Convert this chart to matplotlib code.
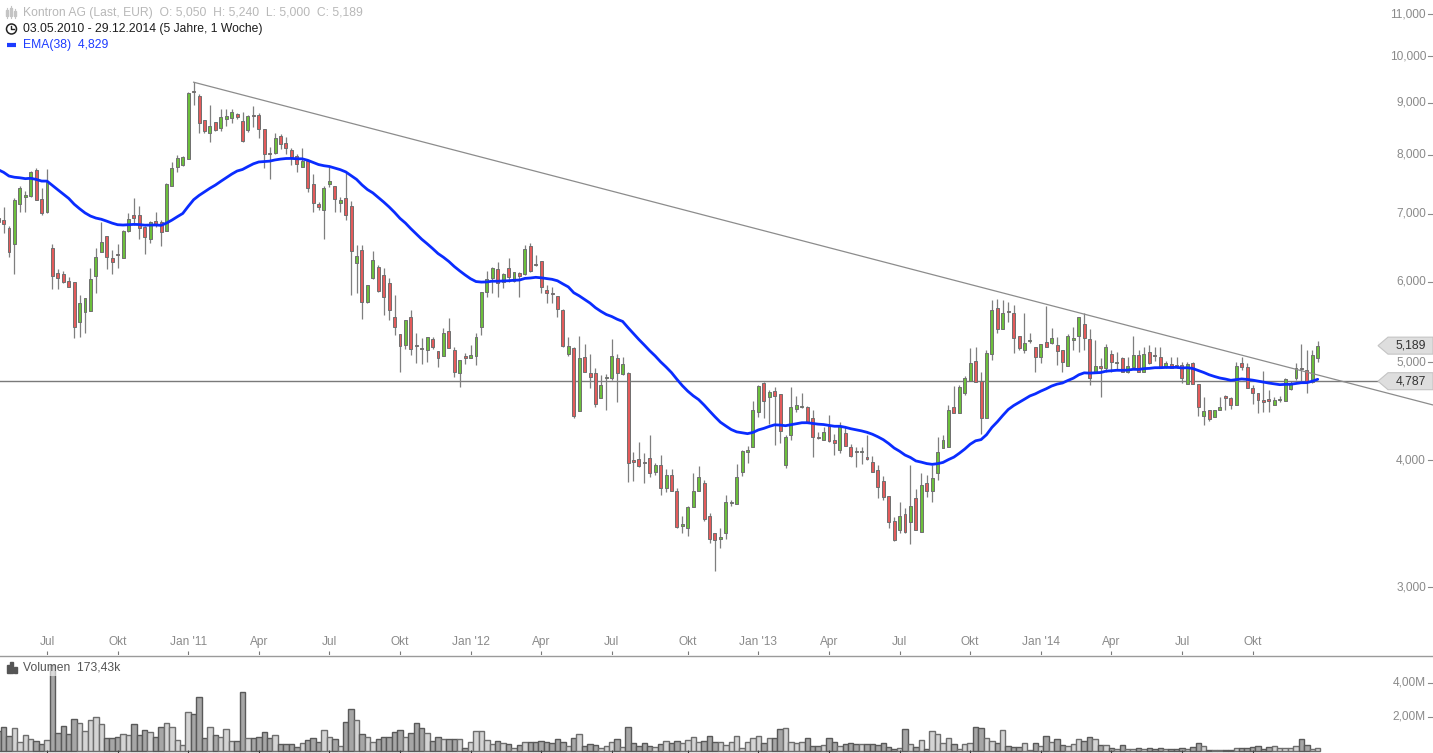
import numpy as np
import pandas as pd
import matplotlib
matplotlib.use("Agg")
import matplotlib.pyplot as plt
import matplotlib.dates as mdates
from matplotlib.patches import Polygon, Circle, Rectangle
from matplotlib.transforms import offset_copy

plt.rcParams['font.family'] = ['Liberation Sans', 'DejaVu Sans']

# weekly candles, Kontron AG (EUR), first week 03.05.2010
start = '2010-05-03'

opens = [
    6.93, 6.90, 6.78, 6.53, 7.15, 7.27, 7.29, 7.73, 7.24, 7.03,
    6.48, 6.12, 6.10, 6.01, 5.99, 5.48, 5.60, 5.61, 6.08, 6.42,
    6.65, 6.33, 6.39, 6.33, 6.73, 6.98, 6.98, 6.79, 6.61, 6.88,
    6.87, 6.73, 7.45, 7.78, 7.82, 7.92, 9.24, 9.14, 8.66, 8.40,
    8.62, 8.50, 8.68, 8.70, 8.77, 8.64, 8.46, 8.75, 8.75, 8.48,
    8.03, 8.03, 8.35, 8.22, 8.09, 7.98, 7.78, 7.89, 7.49, 7.15,
    7.06, 7.49, 7.45, 7.17, 7.25, 7.12, 6.26, 6.45, 5.73, 6.05,
    6.20, 6.09, 5.98, 5.54, 5.33, 5.20, 5.54, 5.20, 5.16, 5.14,
    5.27, 5.13, 5.07, 5.36, 5.14, 4.88, 5.07, 5.04, 5.07, 5.41,
    5.86, 6.05, 6.17, 5.99, 6.19, 6.01, 6.12, 6.10, 6.50, 6.24,
    6.29, 5.89, 5.85, 5.81, 5.63, 5.09, 5.16, 4.47, 5.06, 4.88,
    4.88, 4.61, 4.82, 4.82, 5.04, 4.87, 4.88, 4.00, 4.01, 3.99,
    4.02, 3.90, 3.96, 3.76, 3.87, 3.73, 3.45, 3.43, 3.60, 3.73,
    3.80, 3.53, 3.39, 3.35, 3.39, 3.63, 3.62, 3.90, 4.08, 4.12,
    4.46, 4.77, 4.62, 4.68, 4.65, 3.96, 4.24, 4.49, 4.52, 4.52,
    4.40, 4.22, 4.19, 4.32, 4.19, 4.10, 4.26, 4.12, 4.09, 4.08,
    4.03, 3.99, 3.91, 3.82, 3.69, 3.49, 3.42, 3.54, 3.48, 3.67,
    3.40, 3.80, 3.73, 3.89, 4.11, 4.12, 4.52, 4.45, 4.66, 4.79,
    5.01, 4.79, 4.40, 5.09, 5.65, 5.39, 5.61, 5.59, 5.30, 5.14,
    5.24, 5.17, 5.06, 5.23, 5.22, 5.20, 5.14, 4.96, 5.26, 5.30,
    5.45, 5.27, 4.89, 4.95, 4.93, 5.09, 4.99, 5.05, 4.89, 4.94,
    5.08, 4.89, 5.12, 5.08, 5.06, 4.94, 4.98, 4.97, 4.97, 4.76,
    4.99, 4.76, 4.42, 4.48, 4.41, 4.48, 4.63, 4.61, 4.54, 4.99,
    4.94, 4.71, 4.66, 4.59, 4.60, 4.54, 4.59, 4.58, 4.70, 4.82,
    4.93, 4.91, 4.78, 5.05]

highs = [
    7.17, 7.11, 6.81, 7.25, 7.45, 7.37, 7.71, 7.76, 7.42, 7.75,
    6.53, 6.17, 6.15, 6.06, 5.99, 5.82, 5.78, 6.19, 6.48, 6.87,
    6.65, 6.45, 6.53, 6.75, 7.01, 7.25, 7.12, 6.81, 6.88, 7.03,
    6.90, 7.50, 7.87, 7.99, 7.97, 9.22, 9.43, 9.18, 8.66, 8.96,
    8.62, 8.87, 8.87, 8.87, 8.79, 8.81, 8.75, 8.94, 8.79, 8.48,
    8.14, 8.40, 8.38, 8.33, 8.12, 8.01, 8.12, 7.89, 7.66, 7.19,
    7.45, 7.78, 7.45, 7.27, 7.68, 7.20, 6.52, 6.52, 5.95, 6.43,
    6.23, 6.19, 6.05, 5.82, 5.33, 5.50, 5.63, 5.34, 5.28, 5.29,
    5.29, 5.13, 5.40, 5.52, 5.17, 5.02, 5.10, 5.20, 5.34, 5.86,
    6.15, 6.20, 6.27, 6.12, 6.33, 6.13, 6.13, 6.52, 6.55, 6.37,
    6.29, 5.95, 5.93, 5.81, 5.64, 5.29, 5.17, 5.30, 5.21, 5.09,
    4.93, 4.85, 4.87, 5.27, 5.09, 5.06, 4.89, 4.08, 4.17, 4.07,
    4.24, 3.98, 4.05, 3.92, 3.92, 3.76, 3.53, 3.61, 3.89, 3.95,
    3.83, 3.55, 3.39, 3.43, 3.70, 3.66, 3.97, 4.10, 4.13, 4.58,
    4.75, 4.78, 4.69, 4.72, 4.65, 4.24, 4.72, 4.63, 4.66, 4.53,
    4.48, 4.27, 4.31, 4.43, 4.25, 4.36, 4.31, 4.15, 4.12, 4.12,
    4.24, 4.04, 3.96, 3.86, 3.69, 3.52, 3.64, 3.59, 3.96, 3.75,
    3.89, 3.87, 3.96, 4.22, 4.24, 4.54, 4.73, 4.75, 4.84, 5.16,
    5.17, 4.89, 5.14, 5.76, 5.77, 5.76, 5.73, 5.69, 5.30, 5.59,
    5.34, 5.17, 5.21, 5.68, 5.40, 5.29, 5.14, 5.33, 5.41, 5.54,
    5.59, 5.39, 5.26, 5.05, 5.21, 5.14, 5.11, 5.06, 5.06, 5.30,
    5.14, 5.17, 5.20, 5.17, 5.17, 5.01, 5.06, 5.06, 5.00, 5.00,
    5.00, 4.76, 4.62, 4.48, 4.48, 4.62, 4.64, 4.62, 5.00, 5.06,
    4.99, 4.75, 4.66, 4.90, 4.69, 4.62, 4.63, 4.82, 4.79, 4.99,
    5.21, 5.14, 5.14, 5.24]

lows = [
    6.78, 6.70, 6.34, 6.10, 7.03, 7.03, 7.27, 7.22, 6.98, 7.01,
    5.90, 5.90, 5.98, 5.93, 5.28, 5.29, 5.34, 5.61, 5.85, 6.42,
    6.17, 6.10, 6.19, 6.33, 6.71, 6.82, 6.61, 6.39, 6.55, 6.79,
    6.50, 6.73, 7.45, 7.69, 7.80, 7.92, 8.96, 8.40, 8.40, 8.23,
    8.44, 8.44, 8.54, 8.60, 8.68, 8.23, 8.42, 8.52, 8.31, 7.76,
    7.57, 8.01, 8.10, 8.01, 7.82, 7.69, 7.78, 7.35, 7.03, 7.06,
    6.61, 7.44, 7.03, 7.03, 6.90, 5.82, 5.85, 5.51, 5.72, 6.04,
    5.86, 5.56, 5.50, 5.32, 4.89, 5.15, 5.08, 4.99, 4.98, 5.00,
    5.15, 4.94, 5.07, 5.16, 4.83, 4.72, 4.98, 5.04, 4.97, 5.32,
    5.79, 5.85, 5.79, 5.91, 5.99, 5.99, 5.79, 6.09, 6.13, 6.22,
    5.85, 5.72, 5.72, 5.54, 5.17, 5.07, 4.40, 4.47, 4.89, 4.71,
    4.52, 4.61, 4.48, 4.80, 4.57, 4.86, 3.81, 3.82, 3.94, 3.80,
    3.85, 3.87, 3.70, 3.72, 3.73, 3.43, 3.39, 3.37, 3.60, 3.73,
    3.49, 3.32, 3.11, 3.28, 3.35, 3.61, 3.62, 3.86, 3.98, 4.12,
    4.41, 4.40, 4.34, 4.14, 4.16, 3.93, 4.19, 4.46, 4.50, 4.36,
    4.03, 4.20, 4.19, 4.17, 4.05, 4.07, 4.13, 4.03, 3.94, 3.97,
    4.00, 3.90, 3.67, 3.66, 3.43, 3.33, 3.39, 3.39, 3.31, 3.42,
    3.40, 3.68, 3.64, 3.83, 4.11, 4.12, 4.45, 4.45, 4.64, 4.79,
    4.78, 4.25, 4.40, 5.02, 5.34, 5.39, 5.48, 5.10, 5.14, 5.10,
    5.22, 4.89, 4.99, 5.17, 5.21, 4.97, 4.89, 4.96, 5.14, 5.11,
    5.14, 4.75, 4.89, 4.62, 4.89, 4.89, 4.91, 4.89, 4.88, 4.94,
    4.89, 4.89, 4.98, 5.01, 4.96, 4.93, 4.93, 4.93, 4.77, 4.76,
    4.76, 4.42, 4.33, 4.37, 4.41, 4.48, 4.48, 4.49, 4.54, 4.91,
    4.71, 4.55, 4.45, 4.46, 4.46, 4.54, 4.57, 4.58, 4.69, 4.80,
    4.79, 4.66, 4.77, 5.00]

closes = [
    6.87, 6.84, 6.42, 7.22, 7.42, 7.30, 7.69, 7.22, 7.01, 7.52,
    6.08, 6.05, 5.99, 5.93, 5.41, 5.72, 5.78, 6.04, 6.34, 6.56,
    6.34, 6.27, 6.38, 6.73, 6.91, 6.93, 6.78, 6.64, 6.87, 6.84,
    6.71, 7.49, 7.76, 7.94, 7.96, 9.20, 9.23, 8.60, 8.44, 8.54,
    8.46, 8.71, 8.73, 8.81, 8.71, 8.25, 8.73, 8.74, 8.48, 8.01,
    8.02, 8.31, 8.20, 8.12, 7.96, 7.83, 7.89, 7.42, 7.17, 7.11,
    7.42, 7.54, 7.24, 7.22, 6.98, 6.43, 6.36, 5.73, 5.95, 6.30,
    5.87, 5.79, 5.63, 5.41, 5.18, 5.50, 5.15, 5.19, 5.15, 5.29,
    5.17, 5.04, 5.34, 5.16, 4.89, 5.02, 5.04, 5.08, 5.29, 5.86,
    6.04, 6.19, 5.98, 6.10, 6.06, 6.13, 6.08, 6.46, 6.15, 6.23,
    5.93, 5.85, 5.84, 5.64, 5.18, 5.18, 4.42, 5.05, 4.89, 4.83,
    4.55, 4.75, 4.83, 5.07, 4.88, 4.98, 3.98, 3.99, 3.95, 3.98,
    3.89, 3.96, 3.76, 3.87, 3.73, 3.44, 3.46, 3.60, 3.73, 3.85,
    3.50, 3.35, 3.34, 3.36, 3.64, 3.64, 3.85, 4.09, 4.10, 4.48,
    4.74, 4.58, 4.67, 4.63, 4.28, 4.22, 4.51, 4.54, 4.53, 4.36,
    4.22, 4.21, 4.27, 4.18, 4.16, 4.32, 4.13, 4.04, 4.08, 4.09,
    4.01, 3.90, 3.77, 3.68, 3.48, 3.34, 3.53, 3.40, 3.61, 3.42,
    3.78, 3.73, 3.84, 4.08, 4.19, 4.48, 4.45, 4.72, 4.82, 4.99,
    4.78, 4.40, 5.10, 5.63, 5.39, 5.59, 5.60, 5.28, 5.16, 5.22,
    5.26, 5.06, 5.21, 5.17, 5.28, 5.13, 5.00, 5.30, 5.28, 5.54,
    5.28, 4.82, 4.95, 4.93, 5.17, 5.00, 5.00, 4.89, 4.96, 5.08,
    4.89, 5.09, 4.99, 5.07, 4.94, 4.99, 4.93, 4.96, 4.82, 4.98,
    4.76, 4.51, 4.47, 4.39, 4.48, 4.51, 4.61, 4.54, 4.95, 4.94,
    4.71, 4.66, 4.59, 4.57, 4.58, 4.59, 4.60, 4.81, 4.77, 4.93,
    4.92, 4.78, 5.08, 5.189]

# weekly volume, million shares
volumes = [
    1.20, 1.43, 0.88, 1.33, 0.55, 0.92, 0.71, 0.59, 0.39, 0.65,
    5.05, 1.04, 1.49, 0.98, 1.86, 1.63, 1.18, 1.82, 2.02, 1.57,
    0.75, 0.78, 0.80, 0.98, 0.92, 1.57, 0.92, 1.24, 1.10, 0.80,
    1.39, 1.63, 1.39, 0.65, 0.35, 2.29, 2.16, 3.16, 0.75, 1.39,
    0.92, 0.80, 1.27, 0.59, 0.59, 3.47, 0.75, 0.75, 0.80, 1.10,
    0.75, 0.92, 0.39, 0.39, 0.39, 0.22, 0.45, 0.65, 0.75, 0.51,
    1.24, 0.80, 0.71, 0.31, 1.69, 2.45, 1.82, 0.98, 0.84, 0.55,
    0.71, 0.80, 0.80, 1.10, 1.24, 0.84, 1.04, 1.63, 1.33, 1.04,
    0.61, 0.84, 0.71, 0.71, 0.71, 0.71, 0.20, 0.55, 1.18, 1.18,
    0.65, 0.39, 0.59, 0.45, 0.39, 0.16, 0.35, 0.51, 0.51, 0.51,
    0.59, 0.51, 0.45, 0.71, 0.51, 0.31, 0.75, 0.98, 0.29, 0.39,
    0.35, 0.16, 0.29, 0.51, 0.71, 0.25, 1.39, 0.45, 0.29, 0.45,
    0.31, 0.25, 0.39, 0.59, 0.45, 0.59, 0.45, 0.65, 0.84, 0.55,
    0.59, 0.90, 0.51, 0.51, 0.35, 0.51, 0.90, 0.16, 0.51, 0.75,
    0.90, 0.45, 0.78, 0.78, 1.29, 1.33, 0.51, 0.45, 0.51, 0.75,
    0.31, 0.31, 0.35, 0.75, 0.51, 0.31, 0.39, 0.49, 0.41, 0.39,
    0.39, 0.39, 0.35, 0.45, 0.22, 0.12, 0.16, 1.29, 0.39, 0.25,
    0.65, 0.12, 1.18, 0.98, 0.45, 0.75, 0.39, 0.12, 0.39, 0.45,
    1.39, 1.33, 0.75, 0.59, 0.45, 1.24, 0.31, 0.22, 0.22, 0.45,
    0.08, 0.45, 0.31, 0.88, 0.55, 0.71, 0.35, 0.31, 0.39, 0.71,
    0.59, 0.80, 0.71, 0.35, 0.35, 0.16, 0.10, 0.35, 0.10, 0.10,
    0.16, 0.12, 0.20, 0.12, 0.20, 0.12, 0.12, 0.12, 0.20, 0.12,
    0.25, 0.45, 0.29, 0.08, 0.08, 0.08, 0.08, 0.08, 0.16, 0.16,
    0.16, 0.22, 0.31, 0.12, 0.22, 0.31, 0.20, 0.20, 0.16, 0.29,
    0.69, 0.35, 0.12, 0.17343]

ema_span = 38
ema_seed = 7.78          # EMA value of the week before the first candle
ema_label = '4,829'
trend_dates = ['2011-01-10', '2015-05-27']
trend_prices = [9.43, 4.535]
ref_price = 4.787
price_ticks = [3, 4, 5, 6, 7, 8, 9, 10, 11]
vol_ticks = [2, 4]
month_ticks = ['2010-07-05', '2010-10-04', '2011-01-03', '2011-04-04', '2011-07-04',
               '2011-10-03', '2012-01-02', '2012-04-02', '2012-07-02', '2012-10-08',
               '2013-01-07', '2013-04-08', '2013-07-08', '2013-10-07', '2014-01-06',
               '2014-04-07', '2014-07-07', '2014-10-06']
month_labels = ['Jul', 'Okt', "Jan '11", 'Apr', 'Jul', 'Okt', "Jan '12", 'Apr', 'Jul', 'Okt',
                "Jan '13", 'Apr', 'Jul', 'Okt', "Jan '14", 'Apr', 'Jul', 'Okt']


def de(v, nd=3):
    return f'{v:.{nd}f}'.replace('.', ',')


o = np.array(opens)
h = np.array(highs)
l = np.array(lows)
c = np.array(closes)
dates = pd.date_range(start, periods=len(c), freq='7D')
x = mdates.date2num(dates)
ema = pd.Series([ema_seed] + closes).ewm(span=ema_span, adjust=False).mean().values[1:]

W, H = 1433, 753
fig = plt.figure(figsize=(W / 100, H / 100), dpi=100)
ax = fig.add_axes([0, 98 / H, 1, 655 / H])
axv = fig.add_axes([0, 0, 1, 98 / H])

x0 = mdates.date2num(pd.Timestamp(start))
xlim = (x0 + 2.4, x0 + 1849.6)

# price panel
body_col = np.where(c > o, '#6cbf3c', np.where(c < o, '#e35b5b', '#9a9a9a'))
ax.vlines(x, l, h, color='#7f7f7f', lw=0.9, zorder=2)
ax.bar(x, np.abs(c - o), bottom=np.minimum(o, c), width=3.8, color=body_col,
       edgecolor='#6f6f6f', linewidth=0.7, zorder=3)
ax.plot(mdates.date2num(pd.to_datetime(trend_dates)), trend_prices,
        color='#8c8c8c', lw=0.9, zorder=4)
ax.axhline(ref_price, xmin=0, xmax=1378 / W, color='#7a7a7a', lw=1, zorder=1)
ax.plot(x, ema, color='#0a2cff', lw=2.0, zorder=5, solid_capstyle='round')
ax.set_yscale('log')
ax.set_xlim(xlim)
ax.set_ylim(2.573, 11.362)
ax.axis('off')

ytr = ax.get_yaxis_transform()
lab_tr = offset_copy(ytr, fig=fig, x=-7, y=0, units='dots')
for p in price_ticks:
    ax.text(1.0, p, de(p), transform=lab_tr, ha='right', va='center',
            fontsize=8.6, color='#8a8a8a')
    ax.plot([1 - 5 / W, 1.0], [p, p], transform=ytr, color='#8a8a8a', lw=0.8)

mt = mdates.date2num(pd.to_datetime(month_ticks))
xtr = ax.get_xaxis_transform()
for xm, lab in zip(mt, month_labels):
    ax.text(xm, 13 / 655, lab, transform=xtr, ha='center', va='center',
            fontsize=8.6, color='#8a8a8a')
ax.vlines(mt, 0, 4 / 655, transform=xtr, color='#7a7a7a', lw=0.8)

# volume panel: bars touch each other, dark for falling weeks
vol_col = np.where(c >= o, '#d4d4d4', '#a6a6a6')
vol_edge = np.where(c >= o, '#6e6e6e', '#595959')
axv.bar(x, volumes, width=7.0, color=vol_col, edgecolor=vol_edge, linewidth=1.0)
axv.set_xlim(xlim)
axv.set_ylim(-0.118, 5.647)
axv.axis('off')
vtr = axv.get_yaxis_transform()
vlab_tr = offset_copy(vtr, fig=fig, x=-7, y=0, units='dots')
for v in vol_ticks:
    axv.text(1.0, v, de(v, 2) + 'M', transform=vlab_tr, ha='right', va='center',
             fontsize=8.6, color='#8a8a8a')
    axv.plot([1 - 5 / W, 1.0], [v, v], transform=vtr, color='#8a8a8a', lw=0.8)
axv.vlines(mt, 0, 3 / 98, transform=axv.get_xaxis_transform(), color='#444444', lw=0.8)

# overlay in pixel coordinates for header, labels and price boxes
ov = fig.add_axes([0, 0, 1, 1], zorder=10)
ov.set_xlim(0, W)
ov.set_ylim(H, 0)
ov.axis('off')

ov.plot([0, W], [655.5, 655.5], color='#9a9a9a', lw=1)

hdr = 'Kontron AG (Last, EUR)  O: {}  H: {}  L: {}  C: {}'.format(
    de(opens[-1]), de(highs[-1]), de(lows[-1]), de(closes[-1]))
ov.text(23, 13, hdr, fontsize=8.75, color='#b8b8b8', va='center')
ov.text(23, 29, '03.05.2010 - 29.12.2014 (5 Jahre, 1 Woche)', fontsize=8.75,
        color='#1e1e1e', va='center')
ov.text(23, 45, 'EMA(38)  ' + ema_label, fontsize=8.75, color='#1d3cff', va='center')

for bx, by, bh in [(6.5, 10, 6), (10.5, 8, 8), (14.5, 11, 5)]:
    ov.plot([bx + 1, bx + 1], [by - 2, by + bh + 2], color='#c4c4c4', lw=0.8)
    ov.add_patch(Rectangle((bx, by), 2, bh, color='#c4c4c4'))
ov.add_patch(Circle((11.5, 29), 5, fill=False, ec='#222222', lw=1.1))
ov.plot([11.5, 11.5, 14], [25.5, 29, 29], color='#222222', lw=1.0)
ov.plot([7, 16], [45, 45], color='#1d3cff', lw=3, solid_capstyle='butt')

ov.text(23, 668, 'Volumen  ' + de(volumes[-1] * 1000, 2) + 'k', fontsize=8.75,
        color='#555555', va='center',
        bbox=dict(boxstyle='square,pad=0.15', fc='white', ec='none', alpha=0.6))
for bx, by in [(7, 665), (10.5, 662), (14, 667)]:
    ov.add_patch(Rectangle((bx, by), 3, 673 - by, color='#555555'))


def price_px(p):
    return H - ax.transData.transform((xlim[0], p))[1]


for p, txt in [(closes[-1], de(closes[-1])), (ref_price, de(ref_price))]:
    yc = price_px(p)
    ov.add_patch(Polygon([(1378, yc), (1388, yc - 8.5), (W, yc - 8.5),
                          (W, yc + 8.5), (1388, yc + 8.5)], closed=True,
                         fc='#dedede', ec='#c4c4c4', lw=0.8))
    ov.text(1426, yc, txt, ha='right', va='center', fontsize=8.75, color='#333333')

fig.savefig('out.png', dpi=100)
